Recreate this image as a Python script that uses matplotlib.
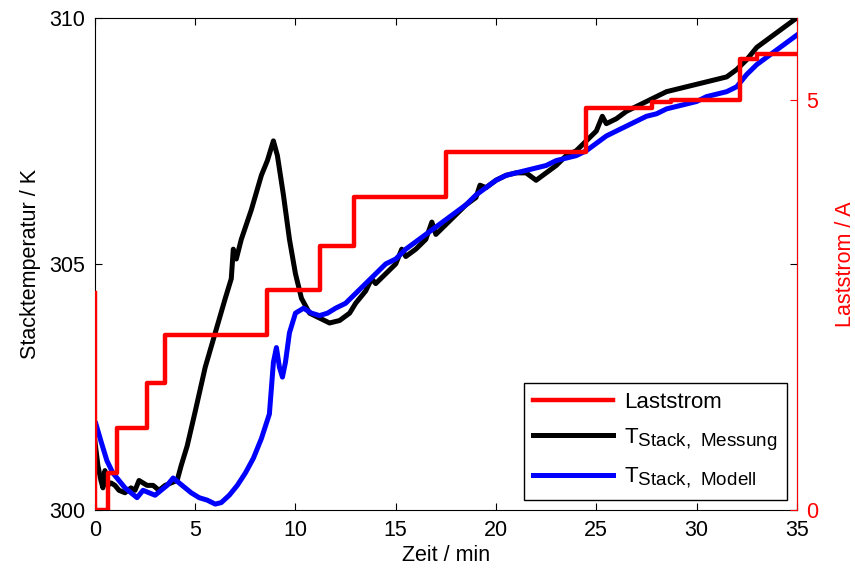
import numpy as np
import matplotlib.pyplot as plt
import matplotlib._mathtext as mathtext_internal
from matplotlib.lines import Line2D

plt.rcParams['font.family'] = ['Liberation Sans', 'DejaVu Sans']
plt.rcParams['mathtext.default'] = 'regular'
# MATLAB-like subscripts are less shrunk than matplotlib's default
mathtext_internal.SHRINK_FACTOR = 0.85

# Laststrom (step profile), time in min, current in A
strom_t = [0, 0, 0.65, 1.1, 2.6, 3.5, 8.6, 11.2, 12.9, 17.5, 24.5, 27.8, 28.7, 32.15, 33.0, 35]
strom_A = [2.65, 0, 0.45, 1.0, 1.55, 2.13, 2.68, 3.22, 3.81, 4.36, 4.9, 4.97, 5.0, 5.5, 5.56, 5.56]

# measured stack temperature
mess_t = [0.0, 0.15, 0.3, 0.4, 0.5, 0.65, 0.8, 1.0, 1.2, 1.5, 1.8, 2.0, 2.2, 2.4, 2.6, 2.9, 3.2, 3.5,
          3.8, 4.1, 4.3, 4.6, 5.0, 5.5, 6.0, 6.5, 6.8, 6.9, 7.05, 7.3, 7.8, 8.3, 8.6, 8.9, 9.1,
          9.4, 9.7, 10.0, 10.3, 10.7, 11.2, 11.7, 12.2, 12.7, 13.0, 13.5, 13.8, 14.0, 14.5, 15.0,
          15.3, 15.5, 16.0, 16.5, 16.8, 17.0, 17.5, 18.0, 18.5, 19.0, 19.2, 19.5, 20.0, 20.5,
          21.0, 21.5, 22.0, 22.5, 23.0, 23.5, 24.0, 24.5, 25.0, 25.3, 25.5, 26.0, 26.5, 27.0, 27.5,
          28.0, 28.5, 29.0, 29.5, 30.0, 30.5, 31.0, 31.5, 32.0, 32.5, 33.0, 33.5, 34.0, 34.5, 35.0]
mess_T = [301.4, 300.9, 300.6, 300.45, 300.8, 300.5, 300.55, 300.5, 300.4, 300.35, 300.45, 300.4,
          300.6, 300.55, 300.5, 300.5, 300.4, 300.5, 300.55, 300.6, 300.9, 301.3, 302.0, 302.9,
          303.6, 304.3, 304.7, 305.3, 305.1, 305.5, 306.1, 306.8, 307.1, 307.5, 307.2, 306.4,
          305.5, 304.8, 304.3, 304.0, 303.9, 303.8, 303.85, 304.0, 304.2, 304.45, 304.7, 304.6,
          304.8, 305.0, 305.3, 305.15, 305.3, 305.5, 305.85, 305.6, 305.8, 306.0, 306.2, 306.35,
          306.6, 306.55, 306.7, 306.8, 306.85, 306.85, 306.7, 306.85, 307.0, 307.2, 307.3, 307.5,
          307.7, 308.0, 307.85, 307.95, 308.1, 308.2, 308.3, 308.4, 308.5, 308.55, 308.6, 308.65,
          308.7, 308.75, 308.8, 308.95, 309.15, 309.4, 309.55, 309.7, 309.85, 310.0]

# model stack temperature
mod_t = [0.05, 0.3, 0.6, 0.9, 1.2, 1.5, 1.8, 2.1, 2.4, 2.7, 3.0, 3.3, 3.6, 3.9, 4.2, 4.5, 4.8,
         5.2, 5.6, 6.0, 6.3, 6.7, 7.1, 7.5, 7.9, 8.3, 8.7, 8.9, 9.05, 9.2, 9.35, 9.5, 9.7, 10.0,
         10.4, 10.8, 11.2, 11.6, 12.0, 12.5, 13.0, 13.5, 14.0, 14.5, 15.0, 15.5, 16.0, 16.5,
         17.0, 17.5, 18.0, 18.5, 19.0, 19.5, 20.0, 20.5, 21.0, 21.5, 22.0, 22.5, 23.0, 23.5,
         24.0, 24.5, 25.0, 25.5, 26.0, 26.5, 27.0, 27.5, 28.0, 28.5, 29.0, 29.5, 30.0, 30.5,
         31.0, 31.5, 32.0, 32.5, 33.0, 33.5, 34.0, 34.5, 35.0]
mod_T = [301.75, 301.4, 301.0, 300.75, 300.6, 300.45, 300.35, 300.25, 300.4, 300.35, 300.3,
         300.4, 300.5, 300.65, 300.55, 300.45, 300.35, 300.25, 300.2, 300.12, 300.15, 300.3,
         300.5, 300.75, 301.05, 301.45, 301.95, 303.0, 303.3, 302.9, 302.7, 303.0, 303.6, 304.0,
         304.1, 304.0, 303.95, 304.0, 304.1, 304.2, 304.4, 304.6, 304.8, 305.0, 305.1, 305.3,
         305.45, 305.6, 305.75, 305.9, 306.05, 306.2, 306.4, 306.55, 306.7, 306.8, 306.85, 306.9,
         306.95, 307.0, 307.1, 307.15, 307.2, 307.3, 307.45, 307.6, 307.7, 307.8, 307.9, 308.0,
         308.05, 308.15, 308.2, 308.25, 308.3, 308.4, 308.45, 308.5, 308.6, 308.85, 309.05,
         309.2, 309.35, 309.5, 309.65]

fs = 15.5

fig = plt.figure(figsize=(8.55, 5.76), dpi=100)
ax1 = fig.add_axes([0.111, 0.1146, 0.821, 0.8544])
ax2 = ax1.twinx()

ax1.plot(mess_t, mess_T, color='black', lw=3.6)
ax1.plot(mod_t, mod_T, color='blue', lw=3.6)
ax2.plot(strom_t, strom_A, color='red', lw=3.2, drawstyle='steps-post')

ax1.set_xlim(0, 35)
ax1.set_ylim(300, 310)
ax1.set_xticks([0, 5, 10, 15, 20, 25, 30, 35])
ax1.set_yticks([300, 305, 310])
ax2.set_ylim(0, 6)
ax2.set_yticks([0, 5])

ax1.tick_params(direction='in', length=5, labelsize=fs, top=True, right=True, pad=7)
ax2.tick_params(direction='in', length=5, labelsize=fs, colors='red', pad=7)
ax2.spines['right'].set_color('red')
for s in ['top', 'left', 'bottom']:
    ax2.spines[s].set_visible(False)

ax1.set_xlabel('Zeit / min', fontsize=fs, labelpad=3)
ax1.set_ylabel('Stacktemperatur / K', fontsize=fs, labelpad=6)
ax2.set_ylabel('Laststrom / A', fontsize=fs, color='red', labelpad=12)

handles = [Line2D([], [], color='red', lw=3.2),
           Line2D([], [], color='black', lw=3.6),
           Line2D([], [], color='blue', lw=3.6)]
labels = ['Laststrom', r'T$_{Stack,\ Messung}$', r'T$_{Stack,\ Modell}$']
leg = ax2.legend(handles, labels, loc='lower right', fontsize=16, fancybox=False,
                 framealpha=1, edgecolor='black', handlelength=3.6, borderaxespad=0.45,
                 labelspacing=0.6, handletextpad=0.5, borderpad=0.4)
leg.get_frame().set_linewidth(1.0)

fig.savefig('out.png', dpi=100)
